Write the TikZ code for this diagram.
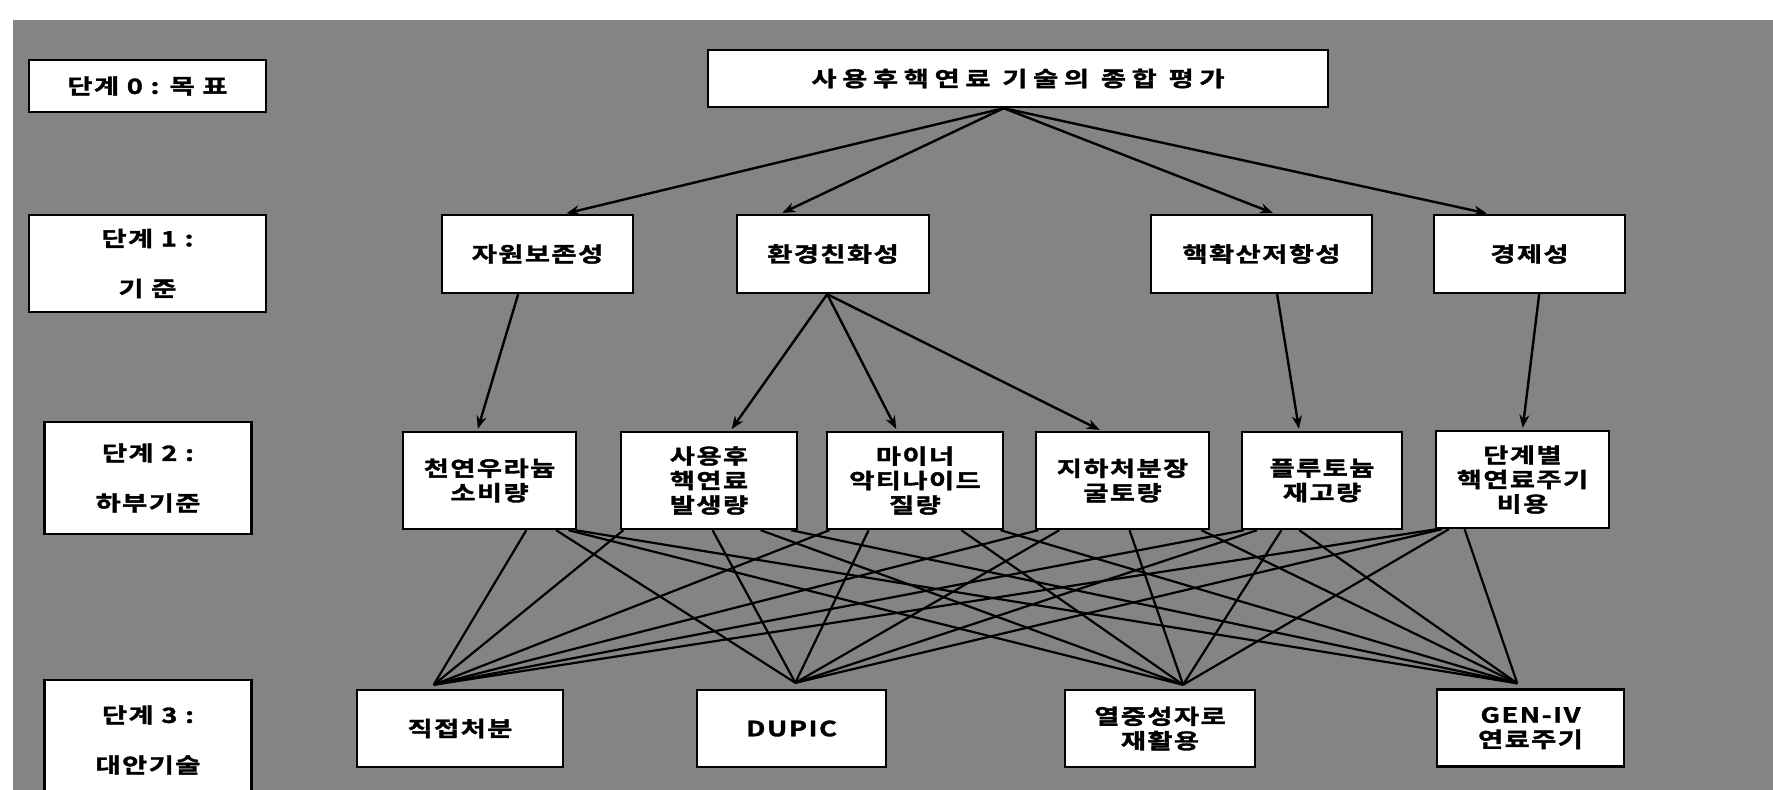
\documentclass[tikz,border=0pt]{standalone}
\usepackage{fontspec}
\newfontfamily\kr{Noto Sans CJK KR Bold}[FakeStretch=1.3, LetterSpace=7, FakeBold=1.6]
\newfontfamily\krwide{Noto Sans CJK KR Bold}[FakeStretch=1.3, LetterSpace=27, FakeBold=1.6]
\usetikzlibrary{arrows.meta,calc}
\definecolor{bggray}{RGB}{132,132,132}
\begin{document}
\begin{tikzpicture}[x=1pt,y=-1pt,
  box/.style={draw=black, line width=2.4pt, fill=white, inner sep=0pt, align=center,
    font=\kr\fontsize{21}{24.5}\selectfont},
  stagebox/.style={box, font=\kr\fontsize{21}{50}\selectfont},
  goalbox/.style={box, font=\krwide\fontsize{21}{24.5}\selectfont},
  arr/.style={line width=2.4pt, -{Stealth[length=13pt,width=10pt]}, shorten >=2pt},
  link/.style={line width=2.2pt}]
\useasboundingbox (0,0) rectangle (1773,790);
\clip (0,0) rectangle (1773,790);
\fill[white] (0,0) rectangle (1773,790);
\fill[bggray] (13,20) rectangle (1773,790);

% stage labels
\node[stagebox, minimum width=237pt, minimum height=52pt] (s0) at (147.5,86) {단계 0 : 목 표};
\node[stagebox, minimum width=237pt, minimum height=97pt] (s1) at (147.5,263.5) {단계 1 :\\기 준};
\node[stagebox, minimum width=207pt, minimum height=112pt] (s2) at (148,478) {단계 2 :\\하부기준};
\node[stagebox, minimum width=207pt, minimum height=120pt] (s3) at (148,740) {단계 3 :\\대안기술};

% goal
\node[goalbox, minimum width=620pt, minimum height=57pt] (top) at (1018,78.5) {사용후핵연료 기술의 종합 평가};

% criteria
\node[box, minimum width=191pt, minimum height=78pt] (t1a) at (537.5,254) {자원보존성};
\node[box, minimum width=192pt, minimum height=78pt] (t1b) at (833,254) {환경친화성};
\node[box, minimum width=221pt, minimum height=78pt] (t1c) at (1261.5,254) {핵확산저항성};
\node[box, minimum width=191pt, minimum height=78pt] (t1d) at (1529.5,254) {경제성};

% sub-criteria
\node[box, minimum width=173pt, minimum height=97pt] (A) at (489.5,480.5) {천연우라늄\\소비량};
\node[box, minimum width=176pt, minimum height=97pt] (B) at (709,480.5) {사용후\\핵연료\\발생량};
\node[box, minimum width=176pt, minimum height=97pt] (C) at (915,480.5) {마이너\\악티나이드\\질량};
\node[box, minimum width=173pt, minimum height=97pt] (D) at (1122.5,480.5) {지하처분장\\굴토량};
\node[box, minimum width=160pt, minimum height=97pt] (E) at (1322,480.5) {플루토늄\\재고량};
\node[box, minimum width=173pt, minimum height=97pt] (F) at (1522.5,479.5) {단계별\\핵연료주기\\비용};

% alternatives
\node[box, minimum width=206pt, minimum height=77pt] (P) at (460,728.5) {직접처분};
\node[box, minimum width=189pt, minimum height=77pt] (Q) at (791.5,728.5) {DUPIC};
\node[box, minimum width=190pt, minimum height=77pt] (R) at (1160,728.5) {열중성자로\\재활용};
\node[box, minimum width=187pt, minimum height=77pt] (S) at (1530.5,728) {GEN-IV\\연료주기};

% goal -> criteria
\coordinate (apex) at ($(top.south west)!0.477!(top.south east)$);
\draw[arr] (apex) -- ($(t1a.north west)!0.64!(t1a.north east)$);
\draw[arr] (apex) -- ($(t1b.north west)!0.23!(t1b.north east)$);
\draw[arr] (apex) -- ($(t1c.north west)!0.56!(t1c.north east)$);
\draw[arr] (apex) -- ($(t1d.north west)!0.29!(t1d.north east)$);

% criteria -> sub-criteria
\draw[arr] ($(t1a.south west)!0.40!(t1a.south east)$) -- ($(A.north west)!0.43!(A.north east)$);
\coordinate (b1) at ($(t1b.south west)!0.47!(t1b.south east)$);
\draw[arr] (b1) -- ($(B.north west)!0.62!(B.north east)$);
\draw[arr] (b1) -- ($(C.north west)!0.40!(C.north east)$);
\draw[arr] (b1) -- ($(D.north west)!0.38!(D.north east)$);
\draw[arr] ($(t1c.south west)!0.57!(t1c.south east)$) -- ($(E.north west)!0.36!(E.north east)$);
\draw[arr] ($(t1d.south west)!0.55!(t1d.south east)$) -- ($(F.north west)!0.50!(F.north east)$);

% sub-criteria -> alternatives
\coordinate (eP) at ($(P.north west)!0.374!(P.north east)+(0,-4)$);
\coordinate (eQ) at ($(Q.north west)!0.52!(Q.north east)+(0,-6)$);
\coordinate (eR) at ($(R.north west)!0.62!(R.north east)+(0,-4)$);
\coordinate (eS) at ($(S.north west)!0.43!(S.north east)+(0,-5)$);
\foreach \src/\fp/\fq/\fr/\fs in {A/0.71/0.88/0.95/0.99, B/0.02/0.52/0.79/0.96,
    C/0.02/0.24/0.76/0.98, D/0.02/0.14/0.54/0.95, E/0.02/0.10/0.25/0.36, F/0.01/0.04/0.08/0.17}{
  \draw[link] ($(\src.south west)!\fp!(\src.south east)$) -- (eP);
  \draw[link] ($(\src.south west)!\fq!(\src.south east)$) -- (eQ);
  \draw[link] ($(\src.south west)!\fr!(\src.south east)$) -- (eR);
  \draw[link] ($(\src.south west)!\fs!(\src.south east)$) -- (eS);
}
\end{tikzpicture}
\end{document}
